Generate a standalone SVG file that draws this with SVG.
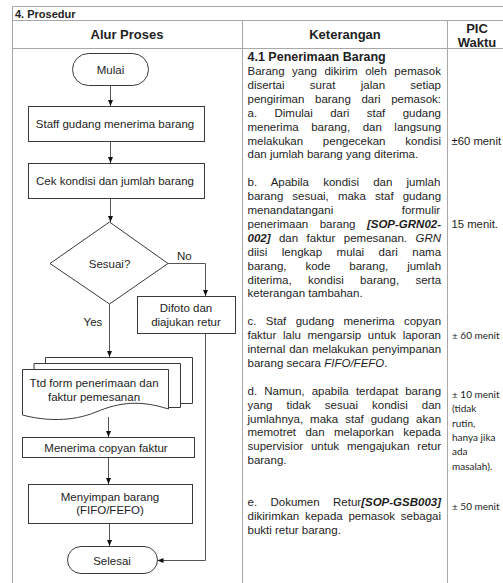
<svg xmlns="http://www.w3.org/2000/svg" width="503" height="583" viewBox="0 0 503 583">
<defs>
  <marker id="ah" markerWidth="6" markerHeight="5" refX="6" refY="2.5" orient="auto" markerUnits="userSpaceOnUse">
    <path d="M0,0 L6,2.5 L0,5 Z" fill="#111"/>
  </marker>
</defs>
<style>
  .grid{stroke:#a8a8a8;stroke-width:1;fill:none}
  .box{fill:#fff;stroke:#3a3a3a;stroke-width:1}
  .edge{fill:none;stroke:#3a3a3a;stroke-width:1}
  .flow{stroke:#555;stroke-width:1;fill:none;marker-end:url(#ah)}
  text{font-family:"Liberation Sans",Arial,sans-serif;fill:#1e1e1e}
  .fc{font-size:11.5px;text-anchor:middle}
  .hd{font-size:13px;font-weight:bold;text-anchor:middle}
  .body{font-size:11.5px}
  .ttl{font-size:12.5px;font-weight:bold}
  .bi{font-weight:bold;font-style:italic}
  .it{font-style:italic}
  .pic{font-size:11.3px}
  .pic2{font-family:Lato,"Open Sans",sans-serif;font-size:10px}
</style>
<rect width="503" height="583" fill="#fff"/>

<!-- table frame -->
<g id="table">
  <path class="grid" d="M12.5,6.5 H503 M12.5,20.5 H503 M12.5,48.5 H503 M12.5,6.5 V583 M242.5,20.5 V583 M447.5,20.5 V583"/>
  <text x="15" y="18" style="font-size:11px;font-weight:bold">4. Prosedur</text>
  <text class="hd" x="127" y="38.5">Alur Proses</text>
  <text class="hd" x="345" y="38.5">Keterangan</text>
  <text class="hd" x="477" y="32.5">PIC</text>
  <text class="hd" x="477" y="46.5">Waktu</text>
</g>

<!-- flowchart connectors -->
<g id="connectors">
  <path class="flow" d="M110.5,86 V106"/>
  <path class="flow" d="M110.5,142 V163"/>
  <path class="flow" d="M110.5,199 V222"/>
  <path class="flow" d="M168,263.5 H205.5 V296"/>
  <path class="flow" d="M109.5,304 V357"/>
  <path class="flow" d="M205.5,334 V560.5 H157.5"/>
  <path class="flow" d="M108.5,417 V437"/>
  <path class="flow" d="M108.5,458 V484"/>
  <path class="flow" d="M109.5,524 V546"/>
  <text x="177" y="260" style="font-size:11.5px">No</text>
  <text x="93" y="326" style="font-size:11.5px;text-anchor:middle">Yes</text>
</g>

<!-- flowchart nodes -->
<g id="mulai">
  <rect class="box" x="72.5" y="53.5" width="76" height="32" rx="16"/>
  <text class="fc" x="110.5" y="73.5">Mulai</text>
</g>
<g id="staff-terima">
  <rect class="box" x="28.5" y="106.5" width="176" height="35"/>
  <text class="fc" x="115" y="127.5">Staff gudang menerima barang</text>
</g>
<g id="cek-kondisi">
  <rect class="box" x="28.5" y="163.5" width="176" height="35"/>
  <text class="fc" x="115" y="185">Cek kondisi dan jumlah barang</text>
</g>
<g id="sesuai">
  <polygon class="box" points="109.5,222 168,263.5 109.5,304 50,263.5"/>
  <text class="fc" x="109.5" y="267.5">Sesuai?</text>
</g>
<g id="difoto">
  <rect class="box" x="137.5" y="296.5" width="98" height="37"/>
  <text class="fc" x="186" y="312">Difoto dan</text>
  <text class="fc" x="186" y="326">diajukan retur</text>
</g>
<g id="ttd-form">
  <path class="edge" d="M45.5,363.5 V357.5 H192.5 V403.5 H180.5"/>
  <path class="edge" d="M34,369.5 V363.5 H180.5 V407.5 H168.5"/>
  <path class="box" d="M22.5,369.5 H168.5 V409 C140,400 120,402 96,412 C72,422 45,421 22.5,415 Z"/>
  <text class="fc" x="94" y="387">Ttd form penerimaan dan</text>
  <text class="fc" x="94" y="401">faktur pemesanan</text>
</g>
<g id="copyan">
  <rect class="box" x="22.5" y="437.5" width="172" height="20"/>
  <text class="fc" x="106" y="451.5">Menerima copyan faktur</text>
</g>
<g id="simpan">
  <rect class="box" x="28.5" y="484.5" width="164" height="39"/>
  <text class="fc" x="110" y="500.5">Menyimpan barang</text>
  <text class="fc" x="110" y="514">(FIFO/FEFO)</text>
</g>
<g id="selesai">
  <rect class="box" x="67.5" y="546.5" width="90" height="27" rx="13.5"/>
  <text class="fc" x="112" y="564.5">Selesai</text>
</g>

<!-- description column -->
<g id="keterangan">
  <text class="ttl" x="247.5" y="61">4.1 Penerimaan Barang</text>
  <text class="body" x="247.5" y="75" word-spacing="4.27">Barang yang dikirim oleh pemasok</text>
  <text class="body" x="247.5" y="88.9" word-spacing="22.1">disertai surat jalan setiap</text>
  <text class="body" x="247.5" y="102.8" word-spacing="7.4">pengiriman barang dari pemasok:</text>
  <text class="body" x="247.5" y="116.7" word-spacing="14.18">a. Dimulai dari staf gudang</text>
  <text class="body" x="247.5" y="130.6" word-spacing="9.32">menerima barang, dan langsung</text>
  <text class="body" x="247.5" y="144.5" word-spacing="16.53">melakukan pengecekan kondisi</text>
  <text class="body" x="247.5" y="158.4">dan jumlah barang yang diterima.</text>

  <text class="body" x="247.5" y="186.2" word-spacing="10.98">b. Apabila kondisi dan jumlah</text>
  <text class="body" x="247.5" y="200.1" word-spacing="5.87">barang sesuai, maka staf gudang</text>
  <text class="body" x="247.5" y="214" word-spacing="65.39">menandatangani formulir</text>
  <text class="body" x="247.5" y="227.9" word-spacing="8.24">penerimaan barang <tspan class="bi">[SOP-GRN02-</tspan></text>
  <text class="body" x="247.5" y="241.8" word-spacing="5.23"><tspan class="bi">002]</tspan> dan faktur pemesanan. <tspan class="it">GRN</tspan></text>
  <text class="body" x="247.5" y="255.7" word-spacing="11.31">diisi lengkap mulai dari nama</text>
  <text class="body" x="247.5" y="269.6" word-spacing="15.71">barang, kode barang, jumlah</text>
  <text class="body" x="247.5" y="283.5" word-spacing="13.16">diterima, kondisi barang, serta</text>
  <text class="body" x="247.5" y="297.4">keterangan tambahan.</text>

  <text class="body" x="247.5" y="325.2" word-spacing="6.19">c. Staf gudang menerima copyan</text>
  <text class="body" x="247.5" y="339.1" word-spacing="3.47">faktur lalu mengarsip untuk laporan</text>
  <text class="body" x="247.5" y="353" word-spacing="0.81">internal dan melakukan penyimpanan</text>
  <text class="body" x="247.5" y="366.9">barang secara <tspan class="it">FIFO/FEFO</tspan>.</text>

  <text class="body" x="247.5" y="394.7" word-spacing="3.95">d. Namun, apabila terdapat barang</text>
  <text class="body" x="247.5" y="408.6" word-spacing="10.82">yang tidak sesuai kondisi dan</text>
  <text class="body" x="247.5" y="422.5" word-spacing="3.79">jumlahnya, maka staf gudang akan</text>
  <text class="body" x="247.5" y="436.4" word-spacing="6.12">memotret dan melaporkan kepada</text>
  <text class="body" x="247.5" y="450.3" word-spacing="4.63">supervisior untuk mengajukan retur</text>
  <text class="body" x="247.5" y="464.2">barang.</text>

  <text class="body" x="247.5" y="505.9" word-spacing="10.16">e. Dokumen Retur<tspan class="bi">[SOP-GSB003]</tspan></text>
  <text class="body" x="247.5" y="519.8" word-spacing="2.5">dikirimkan kepada pemasok sebagai</text>
  <text class="body" x="247.5" y="533.7">bukti retur barang.</text>
</g>

<!-- time column -->
<g id="pic-waktu">
  <text class="pic" x="451.5" y="144.5">±60 menit</text>
  <text class="pic" x="451.5" y="227.9">15 menit.</text>
  <text class="pic2" x="452" y="339.1">± 60 menit</text>
  <text class="pic2" x="452" y="398">± 10 menit</text>
  <text class="pic2" x="452" y="412.3">(tidak</text>
  <text class="pic2" x="452" y="426.6">rutin,</text>
  <text class="pic2" x="452" y="440.9">hanya jika</text>
  <text class="pic2" x="452" y="455.2">ada</text>
  <text class="pic2" x="452" y="469.5">masalah).</text>
  <text class="pic2" x="452" y="509.5">± 50 menit</text>
</g>
</svg>
